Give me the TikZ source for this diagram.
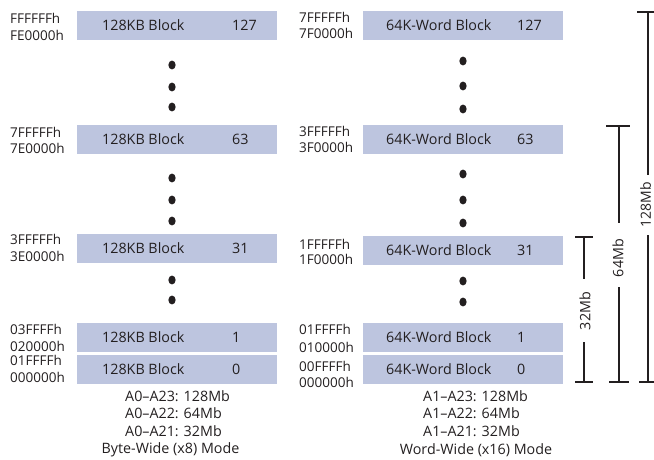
\documentclass[tikz,border=0pt]{standalone}
\usepackage{fontspec}
\setmainfont{Open Sans}
\definecolor{blockfill}{HTML}{BDC5DF}
\definecolor{ink}{HTML}{231F20}
\begin{document}
\begin{tikzpicture}[x=1pt,y=-1pt,
  font=\fontsize{14.3}{17}\selectfont, text=ink,
  blockbox/.style={fill=blockfill, draw=none, inner sep=0pt, minimum width=200pt, minimum height=29pt},
  lt/.style={anchor=west, inner sep=0pt},
  addr/.style={anchor=west, inner sep=0pt, font=\fontsize{13.5}{16}\selectfont},
  ct/.style={anchor=center, inner sep=0pt},
  barline/.style={draw=ink, line width=2pt},
  barlabel/.style={rotate=90, inner sep=0pt}]
\useasboundingbox (0,0) rectangle (654,459);
% ---------- left column ----------
\node[blockbox] (L127) at (177,25.5) {};
\node[blockbox] (L63)  at (177,139.5) {};
\node[blockbox] (L31)  at (177,248.5) {};
\node[blockbox] (L1)   at (177,337.5) {};
\node[blockbox] (L0)   at (177,369.5) {};
\foreach \n/\y in {127/25.5,63/139.5,31/248.5,1/337.5,0/369.5}{
  \node[lt] (LT\n) at (102,\y) {128KB Block};
  \node[lt] (LN\n) at (232,\y) {\n};
}
\node[addr] (a1) at (10,18)  {FFFFFFh};
\node[addr] (a2) at (10,35)  {FE0000h};
\node[addr] (a3) at (10,132) {7FFFFFh};
\node[addr] (a4) at (10,148) {7E0000h};
\node[addr] (a5) at (10,239) {3FFFFFh};
\node[addr] (a6) at (10,256) {3E0000h};
\node[addr] (a7) at (10,329) {03FFFFh};
\node[addr] (a8) at (10,346) {020000h};
\node[addr] (a9) at (10,360) {01FFFFh};
\node[addr] (a10) at (10,377) {000000h};
\foreach \y in {65,87,107,178,200,221,280,300}
  \fill[ink] (172,\y) ellipse [x radius=3.6pt, y radius=4.4pt];
\node[lt] (lb1) at (125,396) {A0–A23: 128Mb};
\node[lt] (lb2) at (125,413) {A0–A22: 64Mb};
\node[lt] (lb3) at (125,431) {A0–A21: 32Mb};
\node[ct] (lb4) at (170.5,450) {Byte-Wide (x8) Mode};
% ---------- right column ----------
\node[blockbox] (R127) at (463,25.5) {};
\node[blockbox] (R63)  at (463,139.5) {};
\node[blockbox] (R31)  at (463,250.5) {};
\node[blockbox] (R1)   at (463,337.5) {};
\node[blockbox] (R0)   at (463,369.5) {};
\foreach \n/\y in {127/25.5,63/139.5,31/250.5,1/337.5,0/369.5}{
  \node[lt] (RT\n) at (386,\y) {64K-Word Block};
  \node[lt] (RN\n) at (517,\y) {\n};
}
\node[addr] (b1) at (299,17)  {7FFFFFh};
\node[addr] (b2) at (299,33)  {7F0000h};
\node[addr] (b3) at (299,131) {3FFFFFh};
\node[addr] (b4) at (299,147) {3F0000h};
\node[addr] (b5) at (299,244) {1FFFFFh};
\node[addr] (b6) at (299,259) {1F0000h};
\node[addr] (b7) at (299,329) {01FFFFh};
\node[addr] (b8) at (299,347) {010000h};
\node[addr] (b9) at (299,366) {00FFFFh};
\node[addr] (b10) at (299,382) {000000h};
\foreach \y in {61,86,109,174,200,223,281,302}
  \fill[ink] (463,\y) ellipse [x radius=3.6pt, y radius=4.4pt];
\node[lt] (rb1) at (423,396) {A1–A23: 128Mb};
\node[lt] (rb2) at (423,413) {A1–A22: 64Mb};
\node[lt] (rb3) at (423,431) {A1–A21: 32Mb};
\node[ct] (rb4) at (476,450) {Word-Wide (x16) Mode};
% ---------- size bars ----------
\node[barlabel] (s32) at (585,311) {32Mb};
\draw[barline] (575,237) -- (593,237);
\draw[barline] (584,237) -- (584,279);
\draw[barline] (584,342) -- (584,382);
\draw[barline] (575,382) -- (593,382);
\node[barlabel] (s64) at (618,258) {64Mb};
\draw[barline] (606,126) -- (630,126);
\draw[barline] (619,126) -- (619,223);
\draw[barline] (619,287) -- (619,382);
\draw[barline] (609,382) -- (629,382);
\node[barlabel, font=\fontsize{14}{16}\selectfont] (s128) at (645.5,205) {128Mb};
\draw[barline] (637,12) -- (660,12);
\draw[barline] (648,12) -- (648,175);
\draw[barline] (648,235) -- (648,382);
\draw[barline] (639,382) -- (660,382);
\end{tikzpicture}
\end{document}
